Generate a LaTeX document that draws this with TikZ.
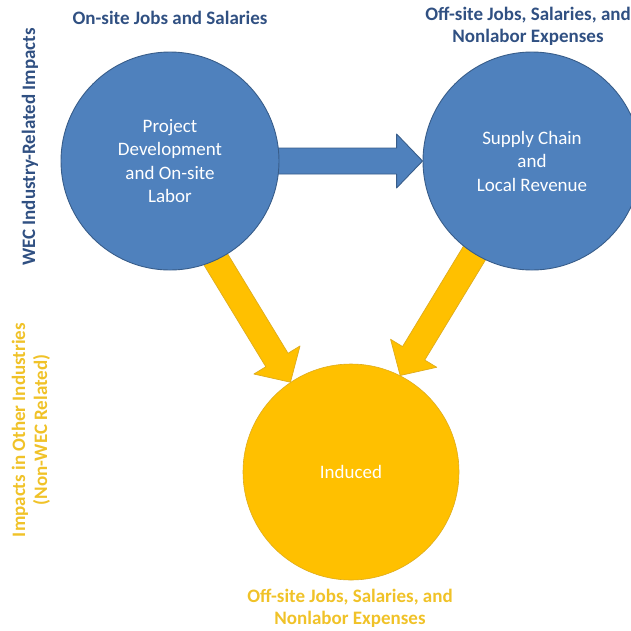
\documentclass[tikz,border=0pt]{standalone}
\usepackage{fontspec}
\setmainfont{Carlito}
\usetikzlibrary{calc,backgrounds}
\definecolor{wecblue}{RGB}{79,129,189}
\definecolor{wecedge}{RGB}{56,93,138}
\definecolor{wecgold}{RGB}{255,192,0}
\definecolor{goldedge}{RGB}{222,172,30}
\definecolor{labelblue}{RGB}{48,80,130}
\definecolor{labelgold}{RGB}{240,194,40}
\tikzset{bubble/.style={circle,minimum size=218pt,inner sep=0pt,align=center,text=white,font=\fontsize{19}{23.5}\selectfont}}
\newcommand{\blockarrow}[3]{%
  \coordinate (hb) at ($(#3)!26pt!(#2)$);
  \draw[#1] (#3) -- ($(hb)!27pt!90:(#3)$) -- ($(hb)!13pt!90:(#3)$) -- ($(#2)!13pt!90:(hb)$)
    -- ($(#2)!13pt!-90:(hb)$) -- ($(hb)!13pt!-90:(#3)$) -- ($(hb)!27pt!-90:(#3)$) -- cycle;
}

\begin{document}
\begin{tikzpicture}[x=1pt,y=-1pt,
    heading/.style={align=center,font=\bfseries\fontsize{19}{22}\selectfont},
    bluearrow/.style={fill=wecblue,draw=wecedge,line width=0.9pt,line join=round},
    goldarrow/.style={fill=wecgold,draw=goldedge,line width=0.7pt,line join=round}]
        \useasboundingbox (0,0) rectangle (631,630);
        \node[bubble,fill=wecblue,draw=wecedge,line width=0.9pt] (proj) at (170,161) {Project\\Development\\and On-site\\Labor};
        \node[bubble,fill=wecblue,draw=wecedge,line width=0.9pt] (supply) at (532,161) {Supply Chain\\and\\Local Revenue};
        \node[bubble,minimum size=216pt,fill=wecgold,draw=goldedge,line width=0.6pt] (induced) at (351,472) {Induced};
        \begin{scope}[on background layer]
            \blockarrow{bluearrow}{proj.center}{supply.west}
            \blockarrow{goldarrow}{$(proj.-65)!-25pt!(induced.124.6)$}{induced.124.6}
            \blockarrow{goldarrow}{$(supply.238)!-25pt!(induced.63.7)$}{induced.63.7}
        \end{scope}
        \node[heading,text=labelblue] (onsite) at (170,18) {On-site Jobs and Salaries};
        \node[heading,text=labelblue] (offsite) at (528,26) {Off-site Jobs, Salaries, and\\Nonlabor Expenses};
        \node[heading,text=labelblue,rotate=90] (wec) at (30,147) {WEC Industry-Related Impacts};
        \node[heading,text=labelgold,rotate=90] (other) at (31,430) {Impacts in Other Industries\\(Non-WEC Related)};
        \node[heading,text=labelgold] (offind) at (350,608) {Off-site Jobs, Salaries, and\\Nonlabor Expenses};
    \end{tikzpicture}
\end{document}
